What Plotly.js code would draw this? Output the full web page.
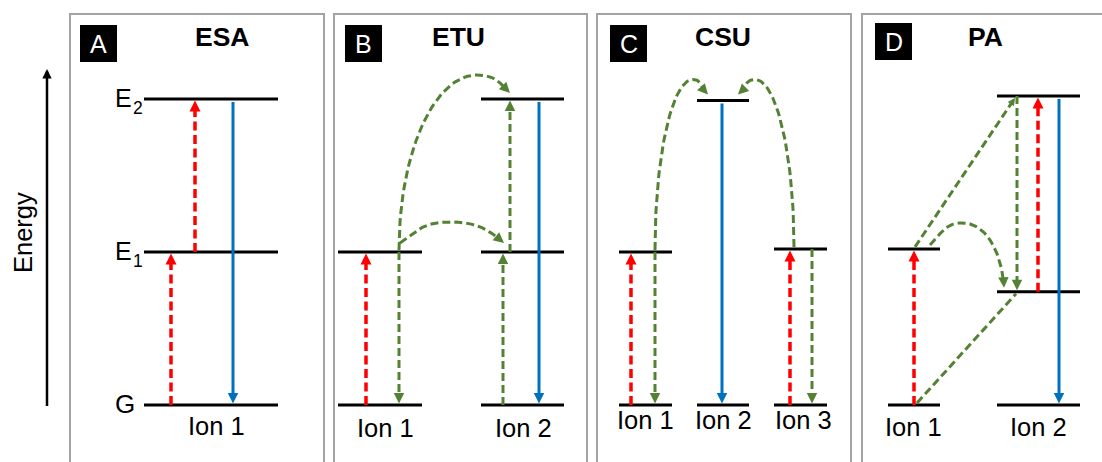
<!DOCTYPE html>
<html>
<head>
<meta charset="utf-8">
<script src="https://cdn.plot.ly/plotly-3.0.1.min.js"></script>
<style>html,body{margin:0;padding:0;background:#fff;overflow:hidden}#chart{width:1102px;height:462px}</style>
</head>
<body>
<div id="chart"></div>
<script>
// ===================== DATA =====================
const panelLetters = ['A', 'B', 'C', 'D'];
const mechanisms   = ['ESA', 'ETU', 'CSU', 'PA'];
const ionNames = [['Ion 1'], ['Ion 1', 'Ion 2'], ['Ion 1', 'Ion 2', 'Ion 3'], ['Ion 1', 'Ion 2']];
const levelNames = ['G', 'E', 'E'];
const levelSubs  = ['', '1', '2'];
const axisName = 'Energy';

// level energies (arbitrary units, ground state G = 0) for every ion of every panel
const energyA = [[0, 1.00, 2.00]];
const energyB = [[0, 1.00], [0, 1.00, 2.00]];
const energyC = [[0, 1.00], [0, 1.99], [0, 1.02]];
const energyD = [[0, 1.02], [0, 0.74, 2.02]];
const energies = [energyA, energyB, energyC, energyD];

// vertical transitions: panel, kind (abs = laser absorption, et = energy transfer, em = emission), ion, from level, to level
const vPanel = [0, 0, 0,   1, 1, 1, 1, 1,   2, 2, 2, 2, 2,   3, 3, 3, 3];
const vKind  = ['abs', 'abs', 'em',  'abs', 'et', 'et', 'et', 'em',  'abs', 'et', 'em', 'abs', 'et',  'abs', 'et', 'abs', 'em'];
const vIon   = [0, 0, 0,   0, 0, 1, 1, 1,   0, 0, 1, 2, 2,   0, 1, 1, 1];
const vFrom  = [0, 1, 2,   0, 1, 0, 1, 2,   0, 1, 1, 0, 1,   0, 2, 1, 2];
const vTo    = [1, 2, 0,   1, 0, 1, 2, 0,   1, 0, 0, 1, 0,   1, 1, 2, 0];

// curved energy-transfer arrows between ions: panel, from ion/level, to ion/level
const cPanel   = [1, 1, 2, 2, 3];
const cFromIon = [0, 0, 0, 2, 0];
const cFromLev = [1, 1, 1, 1, 1];
const cToIon   = [1, 1, 1, 1, 1];
const cToLev   = [2, 1, 1, 1, 1];

// straight (diagonal) energy-transfer links in PA
const dPanel   = [3, 3];
const dFromIon = [0, 0];
const dFromLev = [1, 0];
const dToIon   = [1, 1];
const dToLev   = [2, 1];
const dHead    = [true, false];

// ===================== LAYOUT / GEOMETRY (pixels) =====================
const W = 1102, H = 462;
const Y0 = 405, K = 153;                     // pixel row of E = 0 and pixels per energy unit
const toPy = e => Y0 - K * e;
const fromPy = py => (Y0 - py) / K;

const panelBox  = [[70, 324], [334, 587], [597, 851], [862, 1106]];
const panelTop  = 14;
const letterBox = [[80, 117, 25, 62], [345, 382, 25, 62], [610, 647, 25, 62], [875, 912, 23, 60]];
const titleX    = [222, 458, 723, 985];
const titlePy   = 37;
const levelSpan = [[[144, 278]], [[338, 422], [481, 564]], [[619, 672], [697, 749], [774, 827]], [[888, 940], [997, 1080]]];
const ionLabelX = [[216], [385, 523], [645, 723, 803], [913, 1038]];
const ionLabelPy = [426, 428, 420, 427];
const levelLabelX = 113, levelLabelShift = [1, 1, 1], subX = 130.5, subShift = [0, -8.5, -8.5];
const vX = [171, 195, 233,  366, 399, 503, 510, 539,  631, 655, 722, 790, 812,  914, 1017, 1038, 1059];
// curve geometry: start x, start offset above level, end x, end offset above level, apex x, apex rise, start lean, end lean
const cGeom = [
  [399, 2, 510, 6, 477, 24, 0, 0.30],
  [400, 9, 504, 9, 450, 30, 0.33, 0.26],
  [655, 2, 708, 6, 693, 21, 0, 0.5],
  [794, 2, 738, 6, 755, 21, 0, 0.5],
  [930, 4, 1004, 4, 963, 26, 0.37, 0.05]
];
const dGeom = [[915, 2, 1015, -2], [917, 2, 1016, -2]];

const FONT = "'Liberation Sans', Arial, sans-serif";
const COL  = {abs: '#ff0000', et: '#548235', em: '#0070c0'};
const DASH = {abs: '9px,4.5px', et: '8px,4px', em: 'solid'};
const WID  = {abs: 3.5, et: 3, em: 3};
const HEAD = {abs: 1.1, et: 1.05, em: 1.05};

// ===================== BUILD =====================
const traces = [], annotations = [], shapes = [];
const E = (p, ion, lev) => energies[p][ion][lev];

function addLine(pts, kind, head, headScale) {
  // pts in pixel space [x, py]; last point is the arrow tip
  let line = pts;
  if (head) {
    const tip = pts[pts.length - 1];
    let dx = head[0], dy = head[1];
    const L = Math.hypot(dx, dy); dx /= L; dy /= L;
    const back = 5;
    line = pts.filter(p => Math.hypot(p[0] - tip[0], p[1] - tip[1]) > back);
    line.push([tip[0] - back * dx, tip[1] - back * dy]);
    annotations.push({
      x: tip[0], y: fromPy(tip[1]), ax: tip[0] - 8 * dx, ay: fromPy(tip[1] - 8 * dy),
      xref: 'x', yref: 'y', axref: 'x', ayref: 'y', text: ' ', font: {size: 2}, showarrow: true,
      arrowhead: 2, arrowwidth: 2, arrowsize: headScale || HEAD[kind], arrowcolor: COL[kind], standoff: 0
    });
  }
  traces.push({
    type: 'scatter', mode: 'lines', x: line.map(p => p[0]), y: line.map(p => fromPy(p[1])),
    line: {color: COL[kind], width: WID[kind], dash: DASH[kind]}, hoverinfo: 'skip', showlegend: false
  });
}

// panel frames, letter boxes, titles
for (let p = 0; p < 4; p++) {
  shapes.push({type: 'rect', xref: 'x', yref: 'y', x0: panelBox[p][0], x1: panelBox[p][1],
    y0: fromPy(panelTop), y1: fromPy(H + 10), line: {color: '#a3a3a3', width: 2}, fillcolor: 'rgba(0,0,0,0)'});
  const b = letterBox[p];
  shapes.push({type: 'rect', xref: 'x', yref: 'y', x0: b[0], x1: b[1], y0: fromPy(b[2]), y1: fromPy(b[3]),
    line: {width: 0}, fillcolor: '#000'});
  annotations.push({x: (b[0] + b[1]) / 2, y: fromPy((b[2] + b[3]) / 2), xref: 'x', yref: 'y', text: panelLetters[p],
    showarrow: false, font: {family: FONT, size: 25, color: '#fff'}, xanchor: 'center', yanchor: 'middle'});
  annotations.push({x: titleX[p], y: fromPy(titlePy), xref: 'x', yref: 'y', text: mechanisms[p],
    showarrow: false, font: {family: FONT, size: 26.5, color: '#000', weight: 'bold'}, xanchor: 'center', yanchor: 'middle'});
  // energy levels
  const lx = [], ly = [];
  energies[p].forEach((ionE, i) => {
    ionE.forEach(e => { lx.push(levelSpan[p][i][0], levelSpan[p][i][1], null); ly.push(e, e, null); });
    annotations.push({x: ionLabelX[p][i], y: fromPy(ionLabelPy[p]), xref: 'x', yref: 'y', text: ionNames[p][i],
      showarrow: false, font: {family: FONT, size: 25.5, color: '#000'}, xanchor: 'center', yanchor: 'middle'});
  });
  traces.push({type: 'scatter', mode: 'lines', x: lx, y: ly, line: {color: '#000', width: 3},
    hoverinfo: 'skip', showlegend: false, connectgaps: false});
}

// level names of panel A (letter + subscript)
energyA[0].forEach((e, i) => {
  annotations.push({x: levelLabelX, y: e, xref: 'x', yref: 'y', text: levelNames[i], showarrow: false,
    font: {family: FONT, size: i === 0 ? 26 : 25, color: '#000'}, xanchor: 'left', yanchor: 'middle', yshift: levelLabelShift[i]});
  if (levelSubs[i]) {
    annotations.push({x: subX, y: e, xref: 'x', yref: 'y', text: levelSubs[i], showarrow: false,
      font: {family: FONT, size: 17.5, color: '#000'}, xanchor: 'left', yanchor: 'middle', yshift: subShift[i]});
  }
});

// energy axis arrow + label
annotations.push({x: 47, y: fromPy(69), ax: 47, ay: fromPy(409), xref: 'x', yref: 'y', axref: 'x', ayref: 'y',
  text: ' ', font: {size: 2}, showarrow: true, arrowhead: 2, arrowwidth: 2.5, arrowsize: 0.75, arrowcolor: '#000', standoff: 0});
annotations.push({x: 23, y: fromPy(233), xref: 'x', yref: 'y', text: axisName, textangle: -90, showarrow: false,
  font: {family: FONT, size: 25.5, color: '#000'}, xanchor: 'center', yanchor: 'middle'});

// vertical transitions
for (let k = 0; k < vPanel.length; k++) {
  const p = vPanel[k], kind = vKind[k];
  const pyFrom = toPy(E(p, vIon[k], vFrom[k])), pyTo = toPy(E(p, vIon[k], vTo[k]));
  const up = pyTo < pyFrom;
  const start = pyFrom + (kind === 'em' ? (up ? -3 : 3) : 0);
  const tip = pyTo + (up ? 1.5 : -1.5);
  addLine([[vX[k], start], [vX[k], tip]], kind, [0, up ? -1 : 1]);
}

// curved transfers
function bez(P0, P1, P2, P3, n) {
  const out = [];
  for (let i = 0; i <= n; i++) {
    const t = i / n, u = 1 - t;
    out.push([u*u*u*P0[0] + 3*u*u*t*P1[0] + 3*u*t*t*P2[0] + t*t*t*P3[0],
              u*u*u*P0[1] + 3*u*u*t*P1[1] + 3*u*t*t*P2[1] + t*t*t*P3[1]]);
  }
  return out;
}
for (let k = 0; k < cPanel.length; k++) {
  const p = cPanel[k], g = cGeom[k];
  const l0 = toPy(E(p, cFromIon[k], cFromLev[k])), l1 = toPy(E(p, cToIon[k], cToLev[k]));
  const P0 = [g[0], l0 - g[1]], P3 = [g[2], l1 - g[3]];
  const A = [g[4], Math.min(l0, l1) - g[5]];
  const dx = A[0] - P0[0], dy = A[1] - P0[1];
  const s1 = bez(P0, [P0[0] + g[6] * dx, P0[1] + 0.552 * dy], [A[0] - 0.552 * dx, A[1]], A, 40);
  const dx2 = P3[0] - A[0], dy2 = P3[1] - A[1];
  const C2 = [P3[0] - g[7] * dx2, P3[1] - 0.552 * dy2];
  const s2 = bez(A, [A[0] + 0.552 * dx2, A[1]], C2, P3, 30);
  addLine(s1.concat(s2.slice(1)), 'et', [P3[0] - C2[0], P3[1] - C2[1]]);
}

// diagonal transfers
for (let k = 0; k < dPanel.length; k++) {
  const p = dPanel[k], g = dGeom[k];
  const a = [g[0], toPy(E(p, dFromIon[k], dFromLev[k])) - g[1]];
  const b = [g[2], toPy(E(p, dToIon[k], dToLev[k])) - g[3]];
  addLine([a, b], 'et', dHead[k] ? [b[0] - a[0], b[1] - a[1]] : null, 0.75);
}

const layout = {
  width: W, height: H, margin: {l: 0, r: 0, t: 0, b: 0, pad: 0},
  paper_bgcolor: '#fff', plot_bgcolor: '#fff', showlegend: false,
  xaxis: {range: [0, W], visible: false, fixedrange: true},
  yaxis: {range: [fromPy(H), fromPy(0)], visible: false, fixedrange: true},
  shapes: shapes, annotations: annotations
};
Plotly.newPlot('chart', traces, layout, {staticPlot: true, displayModeBar: false});
</script>
</body>
</html>
